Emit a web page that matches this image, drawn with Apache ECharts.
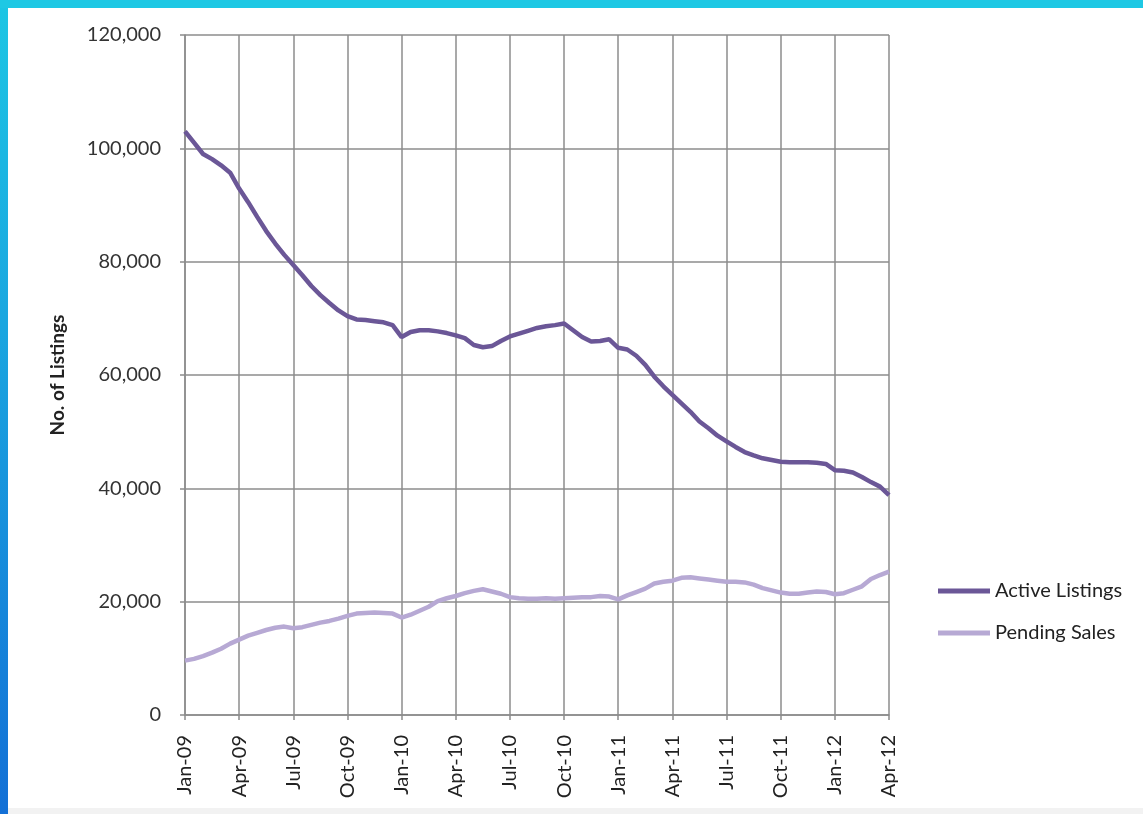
<!DOCTYPE html>
<html>
<head>
<meta charset="utf-8">
<script src="https://cdn.jsdelivr.net/npm/echarts@6/dist/echarts.min.js"></script>
<style>
  html, body { margin: 0; padding: 0; width: 1143px; height: 814px; overflow: hidden; }
  body { background: linear-gradient(180deg, #1cc6e4 0%, #1aa6e0 40%, #1370d6 100%); position: relative; }
  #topband { position: absolute; left: 0; top: 0; width: 1143px; height: 8px; background: #1ec8e4; }
  #bottomband { position: absolute; left: 8px; top: 808px; width: 1135px; height: 6px; background: #f2f2f2; }
  #chart { position: absolute; left: 8px; top: 8px; width: 1135px; height: 800px; background: #ffffff; }
</style>
</head>
<body>
<div id="topband"></div>
<div id="bottomband"></div>
<div id="chart"></div>
<script>
// Quarterly tick labels
const tickLabels = ["Jan-09","Apr-09","Jul-09","Oct-09","Jan-10","Apr-10","Jul-10","Oct-10","Jan-11","Apr-11","Jul-11","Oct-11","Jan-12","Apr-12"];

// Semi-monthly observation dates, Jan 2009 – Apr 2012
const categories = [];
for (let y = 2009; y <= 2012; y++) {
  for (let m = 1; m <= 12; m++) {
    if (y === 2012 && m > 4) break;
    const mm = (m < 10 ? "0" : "") + m;
    categories.push(y + "-" + mm + "-01");
    if (!(y === 2012 && m === 4)) categories.push(y + "-" + mm + "-16");
  }
}

const activeListings = [
  103000, 101000, 99000, 98100, 97000, 95700, 92900, 90500, 87900, 85400,
  83200, 81200, 79400, 77600, 75700, 74100, 72700, 71400, 70400, 69800,
  69700, 69500, 69300, 68800, 66700, 67600, 67900, 67900, 67700, 67400,
  67000, 66500, 65300, 64900, 65100, 66000, 66800, 67300, 67800, 68300,
  68600, 68800, 69100, 67900, 66700, 65900, 66000, 66300, 64800, 64500,
  63400, 61800, 59700, 58000, 56500, 55000, 53500, 51800, 50600, 49300,
  48300, 47300, 46400, 45800, 45300, 45000, 44700, 44600, 44600, 44600,
  44500, 44300, 43200, 43100, 42800, 42000, 41100, 40300, 38800
];

const pendingSales = [
  9600, 9900, 10400, 11000, 11700, 12600, 13300, 14000, 14500, 15000,
  15400, 15600, 15300, 15500, 15900, 16300, 16600, 17000, 17500, 17900,
  18000, 18100, 18000, 17900, 17200, 17700, 18400, 19100, 20100, 20600,
  21000, 21500, 21900, 22200, 21800, 21400, 20800, 20600, 20500, 20500,
  20600, 20500, 20600, 20700, 20800, 20800, 21000, 20900, 20400, 21100,
  21700, 22300, 23200, 23500, 23700, 24200, 24300, 24100, 23900, 23700,
  23500, 23500, 23400, 23000, 22400, 22000, 21600, 21400, 21400, 21600,
  21800, 21700, 21300, 21500, 22100, 22700, 24000, 24700, 25300
];

const gridColor = '#8c8c8c';
const font = 'Lato, "Open Sans", sans-serif';
const isQuarter = (i) => {
  const d = categories[i];
  const m = parseInt(d.slice(5, 7), 10);
  return d.slice(8) === "01" && (m - 1) % 3 === 0;
};
const quarterLabel = (i) => {
  let k = 0;
  for (let j = 0; j < i; j++) if (isQuarter(j)) k++;
  return tickLabels[k];
};

const chart = echarts.init(document.getElementById('chart'));
chart.setOption({
  animation: false,
  backgroundColor: '#ffffff',
  grid: { left: 177, right: 254, top: 27, bottom: 93, containLabel: false },
  legend: {
    orient: 'vertical',
    left: 925,
    top: 568,
    itemWidth: 52,
    itemHeight: 5,
    itemGap: 22,
    icon: 'rect',
    textStyle: { fontFamily: font, fontSize: 20, lineHeight: 20, color: '#222', padding: [0, 0, 0, 0] },
    data: ['Active Listings', 'Pending Sales']
  },
  xAxis: {
    type: 'category',
    data: categories,
    boundaryGap: false,
    axisLine: { show: true, lineStyle: { color: gridColor, width: 1.5 } },
    axisTick: { show: true, length: 5, interval: (i) => isQuarter(i), lineStyle: { color: gridColor, width: 1.5 } },
    splitLine: { show: true, interval: (i) => isQuarter(i), lineStyle: { color: gridColor, width: 1.5 } },
    axisLabel: {
      interval: (i) => isQuarter(i),
      formatter: (v, i) => quarterLabel(i),
      rotate: 90,
      margin: 20,
      fontFamily: font,
      fontSize: 20,
      color: '#222'
    }
  },
  yAxis: {
    type: 'value',
    min: 0,
    max: 120000,
    interval: 20000,
    name: 'No. of Listings',
    nameLocation: 'middle',
    nameGap: 118,
    nameRotate: 90,
    nameTextStyle: { fontFamily: font, fontSize: 19, fontWeight: 'bold', color: '#222' },
    axisLine: { show: true, lineStyle: { color: gridColor, width: 1.5 } },
    axisTick: { show: true, length: 5, lineStyle: { color: gridColor, width: 1.5 } },
    splitLine: { show: true, lineStyle: { color: gridColor, width: 1.5 } },
    axisLabel: {
      margin: 24,
      fontFamily: font,
      fontSize: 20,
      color: '#333',
      formatter: (v) => v.toLocaleString('en-US')
    }
  },
  series: [
    {
      name: 'Active Listings',
      type: 'line',
      data: activeListings,
      showSymbol: false,
      symbol: 'none',
      lineStyle: { color: '#6b5797', width: 4.5 },
      itemStyle: { color: '#6b5797' }
    },
    {
      name: 'Pending Sales',
      type: 'line',
      data: pendingSales,
      showSymbol: false,
      symbol: 'none',
      lineStyle: { color: '#b7a9d4', width: 4.5 },
      itemStyle: { color: '#b7a9d4' }
    }
  ]
});
</script>
</body>
</html>
